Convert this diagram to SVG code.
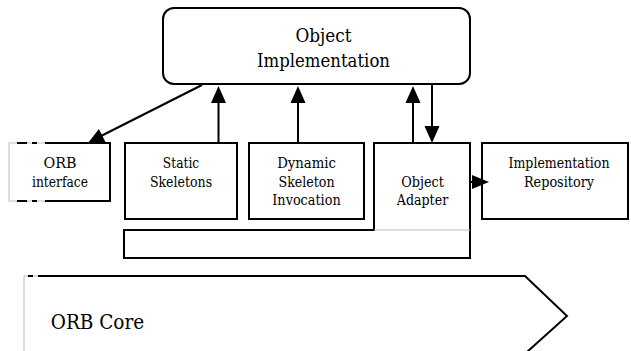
<svg xmlns="http://www.w3.org/2000/svg" width="631" height="351" viewBox="0 0 631 351">
  <style>
    text { fill: #000; text-anchor: middle; font-family: 'DejaVu Serif', serif; }
    .lbl { font-size: 14.5px; }
    .big { font-size: 19px; }
    .box { fill: #fff; stroke: #000; stroke-width: 2; }
    .edge { fill: none; stroke: #000; stroke-width: 2; }
    .faint { fill: none; stroke: #bdbdbd; stroke-width: 1; }
    .head { fill: #000; stroke: none; }
  </style>
  <rect width="631" height="351" fill="#fff"/>

  <!-- Object Implementation -->
  <g id="object-implementation">
    <rect class="box" x="163" y="8" width="307" height="76" rx="11"/>
    <text class="big" x="323.5" y="42" textLength="56" lengthAdjust="spacingAndGlyphs">Object</text>
    <text class="big" x="323.5" y="67" textLength="133" lengthAdjust="spacingAndGlyphs">Implementation</text>
  </g>

  <!-- ORB interface: open left side -->
  <g id="orb-interface">
    <path class="faint" d="M9,143 V201 M9,143 H45 M9,201 H45"/>
    <path class="edge" d="M45,143 H110 V201 H45"/>
    <path class="edge" d="M17,143 H27 M32,143 H37 M17,201 H27 M32,201 H37"/>
    <text class="lbl" x="60" y="168" textLength="33" lengthAdjust="spacingAndGlyphs">ORB</text>
    <text class="lbl" x="60" y="187" textLength="56" lengthAdjust="spacingAndGlyphs">interface</text>
  </g>

  <!-- Static Skeletons -->
  <g id="static-skeletons">
    <rect class="box" x="125" y="143" width="112" height="76"/>
    <text class="lbl" x="181" y="168" textLength="36.4" lengthAdjust="spacingAndGlyphs">Static</text>
    <text class="lbl" x="181" y="187" textLength="62.2" lengthAdjust="spacingAndGlyphs">Skeletons</text>
  </g>

  <!-- Dynamic Skeleton Invocation -->
  <g id="dynamic-skeleton-invocation">
    <rect class="box" x="249" y="143" width="115" height="76"/>
    <text class="lbl" x="306.5" y="168" textLength="58.7" lengthAdjust="spacingAndGlyphs">Dynamic</text>
    <text class="lbl" x="306.5" y="187" textLength="56" lengthAdjust="spacingAndGlyphs">Skeleton</text>
    <text class="lbl" x="306.5" y="205" textLength="68.4" lengthAdjust="spacingAndGlyphs">Invocation</text>
  </g>

  <!-- Object Adapter, joined with the bar underneath -->
  <g id="object-adapter">
    <path class="edge" d="M374,143 H470 V258 H124 V230 H374 Z" fill="#fff"/>
    <path class="faint" d="M374,230 H470"/>
    <text class="lbl" x="422.5" y="187" textLength="42.7" lengthAdjust="spacingAndGlyphs">Object</text>
    <text class="lbl" x="422.5" y="205" textLength="51.5" lengthAdjust="spacingAndGlyphs">Adapter</text>
  </g>

  <!-- Implementation Repository -->
  <g id="implementation-repository">
    <rect class="box" x="482" y="143" width="146" height="76"/>
    <text class="lbl" x="559" y="168" textLength="101" lengthAdjust="spacingAndGlyphs">Implementation</text>
    <text class="lbl" x="559" y="187" textLength="70.2" lengthAdjust="spacingAndGlyphs">Repository</text>
  </g>

  <!-- ORB Core -->
  <g id="orb-core">
    <path class="faint" d="M24,276 V351 M24,276 H52"/>
    <path class="edge" d="M52,276 H525 L567,316 L527,352"/>
    <path class="edge" d="M28,276 H33 M38,276 H52"/>
    <text x="97.5" y="329" font-size="20" textLength="93.5" lengthAdjust="spacingAndGlyphs">ORB Core</text>
  </g>

  <!-- Connectors -->
  <g id="connectors">
    <!-- Object Implementation to ORB interface -->
    <line class="edge" x1="202" y1="85" x2="99" y2="137"/>
    <polygon class="head" points="88,143 98.9,129.1 105.7,142.5"/>
    <!-- Static Skeletons up -->
    <line class="edge" x1="218.5" y1="143" x2="218.5" y2="100"/>
    <polygon class="head" points="211,103 226,103 218.5,86"/>
    <!-- Dynamic Skeleton Invocation up -->
    <line class="edge" x1="298" y1="143" x2="298" y2="100"/>
    <polygon class="head" points="290.5,103 305.5,103 298,86"/>
    <!-- Object Adapter up -->
    <line class="edge" x1="413" y1="143" x2="413" y2="100"/>
    <polygon class="head" points="405.5,103 420.5,103 413,86"/>
    <!-- Object Implementation down to Object Adapter -->
    <line class="edge" x1="432" y1="84" x2="432" y2="128"/>
    <polygon class="head" points="424.5,126 439.5,126 432,143"/>
    <!-- Object Adapter to Implementation Repository -->
    <line class="edge" x1="470" y1="182" x2="476" y2="182"/>
    <polygon class="head" points="472,175 472,189 489,182"/>
  </g>
</svg>
